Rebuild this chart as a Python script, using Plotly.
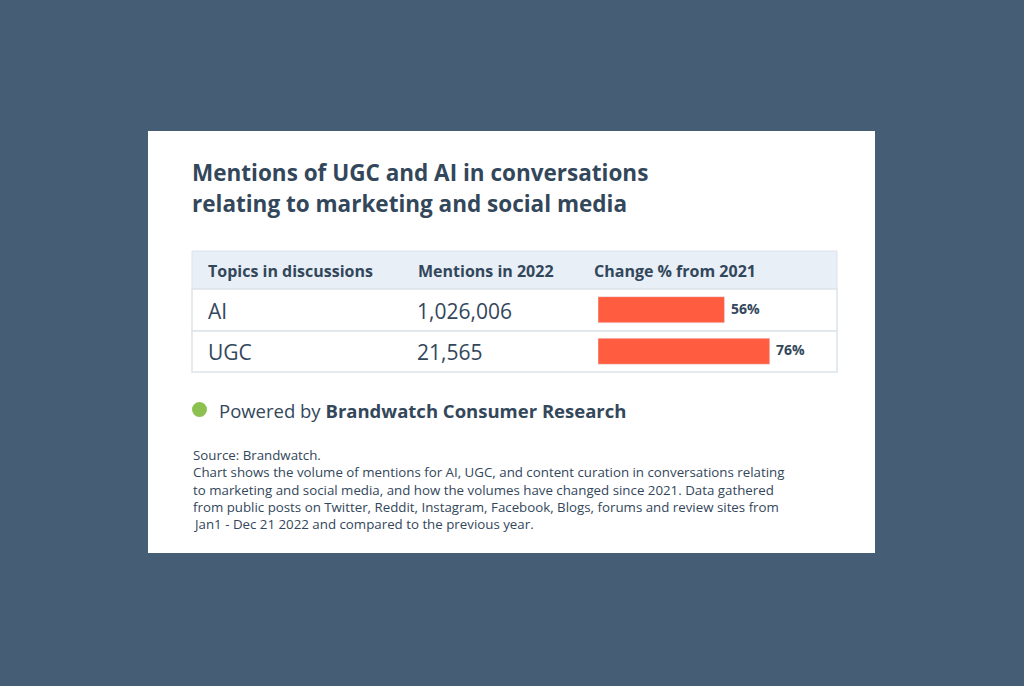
import plotly.graph_objects as go

topics = ["AI", "UGC"]
mentions = ["1,026,006", "21,565"]
change_pct = [56, 76]
headers = ["Topics in discussions", "Mentions in 2022", "Change % from 2021"]
title_lines = ["Mentions of UGC and AI in conversations", "relating to marketing and social media"]
source_lines = [
    "Source: Brandwatch.",
    "Chart shows the volume of mentions for AI, UGC, and content curation in conversations relating",
    "to marketing and social media, and how the volumes have changed since 2021. Data gathered",
    "from public posts on Twitter, Reddit, Instagram, Facebook, Blogs, forums and review sites from",
    "Jan1 - Dec 21 2022 and compared to the previous year.",
]

W, H = 1024, 686
def px(x): return x / W
def py(y): return 1 - y / H

DARK = "#33475b"
FONT = "Open Sans"

fig = go.Figure()
fig.add_trace(go.Bar(
    x=change_pct, y=topics, orientation="h", marker_color="#ff5c40",
    width=0.63, hoverinfo="skip", showlegend=False,
))

shapes = []
shapes.append(dict(type="rect", xref="paper", yref="paper", x0=px(148), x1=px(875), y0=py(553), y1=py(131),
                   fillcolor="white", line=dict(width=0), layer="below"))
shapes.append(dict(type="rect", xref="paper", yref="paper", x0=px(192), x1=px(837), y0=py(289), y1=py(251),
                   fillcolor="#e8eff7", line=dict(color="#dde3ea", width=1), layer="below"))
for top, bot in [(289, 331), (331, 372)]:
    shapes.append(dict(type="rect", xref="paper", yref="paper", x0=px(192), x1=px(837), y0=py(bot), y1=py(top),
                       fillcolor="white", line=dict(color="#dde3ea", width=1.5), layer="below"))
shapes.append(dict(type="circle", xref="paper", yref="paper", x0=px(192), x1=px(207), y0=py(417), y1=py(402),
                   fillcolor="#8cc152", line=dict(width=0)))

ann = []
for i, t in enumerate(title_lines):
    ann.append(dict(text=f"<b>{t}</b>", x=px(190), y=py(172 + 31 * i), xref="paper", yref="paper",
                    xanchor="left", yanchor="middle", showarrow=False, font=dict(size=22.5, color=DARK, family=FONT)))
for hx, h in zip([206, 416, 592], headers):
    ann.append(dict(text=f"<b>{h}</b>", x=px(hx), y=py(271), xref="paper", yref="paper", xanchor="left",
                    yanchor="middle", showarrow=False, font=dict(size=16, color=DARK, family=FONT)))
for i, (t, m) in enumerate(zip(topics, mentions)):
    yy = py(311 + 41 * i)
    ann.append(dict(text=t, x=px(206), y=yy, xref="paper", yref="paper", xanchor="left", yanchor="middle",
                    showarrow=False, font=dict(size=21, color=DARK, family=FONT)))
    ann.append(dict(text=m, x=px(415), y=yy, xref="paper", yref="paper", xanchor="left", yanchor="middle",
                    showarrow=False, font=dict(size=21, color=DARK, family=FONT)))
for t, v in zip(topics, change_pct):
    ann.append(dict(text=f"<b>{v}%</b>", x=v, y=t, xref="x", yref="y", xanchor="left", yanchor="bottom",
                    xshift=4, yshift=-10, showarrow=False, font=dict(size=14, color=DARK, family=FONT)))
ann.append(dict(text="Powered by <b>Brandwatch Consumer Research</b>", x=px(217), y=py(410), xref="paper",
                yref="paper", xanchor="left", yanchor="middle", showarrow=False,
                font=dict(size=18.5, color=DARK, family=FONT)))
for i, s in enumerate(source_lines):
    ann.append(dict(text=s, x=px(191), y=py(455 + 17.3 * i), xref="paper", yref="paper", xanchor="left",
                    yanchor="middle", showarrow=False, font=dict(size=13.3, color=DARK, family=FONT)))

fig.update_layout(
    width=W, height=H, margin=dict(l=0, r=0, t=0, b=0),
    paper_bgcolor="#465d76", plot_bgcolor="rgba(0,0,0,0)",
    shapes=shapes, annotations=ann,
    xaxis=dict(domain=[px(598), px(598 + 226)], range=[0, 100], visible=False, fixedrange=True),
    yaxis=dict(domain=[py(372), py(289)], range=[1.5, -0.5], visible=False, fixedrange=True,
               categoryorder="array", categoryarray=topics),
)
fig.write_html("out.html", config={"displayModeBar": False},
               post_script="document.body.style.margin='0';document.body.style.overflow='hidden';")
